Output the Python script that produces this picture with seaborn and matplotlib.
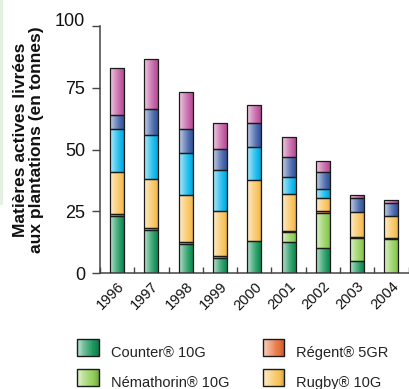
import numpy as np
import matplotlib
matplotlib.use("Agg")
import matplotlib.pyplot as plt
import matplotlib.colors as mcolors
from matplotlib.patches import Rectangle
from matplotlib.legend_handler import HandlerBase
from matplotlib.transforms import ScaledTranslation
import seaborn as sns

# Tonnes of active ingredient delivered, per product and year
years = ["1996", "1997", "1998", "1999", "2000", "2001", "2002", "2003", "2004"]
counter = [23.3, 17.7, 11.9, 6.3, 13.0, 12.8, 10.1, 4.9, 0.0]
nemathorin = [0.0, 0.0, 0.0, 0.0, 0.0, 3.9, 14.4, 9.4, 13.9]
regent = [0.6, 0.5, 0.9, 0.8, 0.0, 0.3, 0.5, 0.4, 0.3]
rugby = [17.2, 19.9, 19.0, 18.2, 24.8, 15.2, 5.4, 10.2, 9.1]
cyan_series = [17.3, 18.0, 17.0, 16.5, 13.2, 6.9, 3.7, 0.0, 0.0]
blue_series = [5.7, 10.2, 9.5, 8.4, 9.7, 7.9, 7.0, 5.7, 5.0]
pink_series = [19.1, 20.4, 15.2, 10.5, 7.4, 8.1, 4.5, 1.2, 1.3]

series = [
    ("Counter® 10G", counter, "#17955a"),
    ("Némathorin® 10G", nemathorin, "#8fcd55"),
    ("Régent® 5GR", regent, "#e6703a"),
    ("Rugby® 10G", rugby, "#f8c157"),
    (None, cyan_series, "#08b4ea"),
    (None, blue_series, "#3d5ea6"),
    (None, pink_series, "#c0589f"),
]
legend_names = ["Counter® 10G", "Némathorin® 10G", "Régent® 5GR", "Rugby® 10G"]

sns.set_theme(style="white")
plt.rcParams["font.family"] = ["Liberation Sans", "DejaVu Sans"]


def ramp(color, n=64):
    """Horizontal shading: pale on the left, full colour, slightly darker at the right edge."""
    c = np.array(mcolors.to_rgb(color))
    t = np.linspace(0, 1, n)
    out = []
    for v in t:
        if v < 0.8:
            w = 0.72 * (1 - v / 0.8) ** 1.2
            out.append(c * (1 - w) + w)
        else:
            d = (v - 0.8) / 0.2 * 0.18
            out.append(c * (1 - d))
    return np.array(out)


fig = plt.figure(figsize=(4.09, 3.89), dpi=100)
ax = fig.add_axes([100 / 409, 1 - 273.3 / 389, 308.5 / 409, (273.3 - 26) / 389])

bottom = np.zeros(len(years))
for name, vals, col in series:
    vals = np.array(vals, dtype=float)
    sns.barplot(x=years, y=vals, bottom=bottom, color=col, saturation=1,
                width=0.41, edgecolor="#1a1a1a", linewidth=0.9, ax=ax, zorder=3)
    cont = ax.containers[-1]
    grad = ramp(col)[np.newaxis, :, :]
    for patch, v in zip(cont.patches, vals):
        if v <= 0:
            patch.set_visible(False)
            continue
        x0, y0 = patch.get_x(), patch.get_y()
        w, h = patch.get_width(), patch.get_height()
        im = ax.imshow(grad, extent=[x0, x0 + w, y0, y0 + h], aspect="auto",
                       interpolation="bilinear", zorder=2.5)
        im.set_clip_path(patch)
        patch.set_facecolor("none")
    bottom = bottom + vals

ax.set_xlim(-0.5, 8.5)
ax.set_ylim(0, 100)
ax.set_xlabel("")
ax.set_ylabel("")

for s in ["top", "right"]:
    ax.spines[s].set_visible(False)
for s in ["left", "bottom"]:
    ax.spines[s].set_color("#444444")
    ax.spines[s].set_linewidth(1.1)

ax.set_yticks([0, 25, 50, 75, 100])
ax.set_yticklabels(["0", "25", "50", "75", "100"])
ax.tick_params(axis="y", direction="out", length=5.8, width=1.0, color="#444444",
               labelsize=13, pad=5, left=True, labelcolor="#111111")
top_lbl = ax.get_yticklabels()[-1]
top_lbl.set_transform(top_lbl.get_transform() + ScaledTranslation(0, 5 / 72, fig.dpi_scale_trans))

ax.set_xticks(range(len(years)))
ax.set_xticklabels(years, rotation=45, ha="right", rotation_mode="anchor")
ax.set_xticks(np.arange(-0.5, len(years), 1.0), minor=True)
ax.tick_params(axis="x", which="major", length=0, labelsize=10.5, pad=4.5, labelcolor="#111111")
ax.tick_params(axis="x", which="minor", direction="in", length=4.3, width=1.0,
               color="#444444", bottom=True)

fig.text(28.5 / 409, 1 - 140 / 389,
         "Matières actives livrées\naux plantations (en tonnes)",
         rotation=90, ha="center", va="center", fontsize=12.5, fontweight="bold",
         linespacing=1.05, color="#111111")

# faint page tint at the left edge
fig.patches.append(Rectangle((0, 1 - 205 / 389), 3 / 409, 205 / 389, transform=fig.transFigure,
                             facecolor="#e3f1e0", edgecolor="none", zorder=0))


class GradientBox(HandlerBase):
    def create_artists(self, legend, orig_handle, xdescent, ydescent, width, height,
                       fontsize, trans):
        col = orig_handle.get_facecolor()
        cols = ramp(col, 24)
        x0, y0 = -xdescent, -ydescent + 3.5
        n = len(cols)
        arts = []
        for i, c in enumerate(cols):
            r = Rectangle((x0 + width * i / n, y0), width / n + 0.3, height,
                          facecolor=c, edgecolor="none", transform=trans)
            arts.append(r)
        arts.append(Rectangle((x0, y0), width, height, facecolor="none",
                              edgecolor="#1a1a1a", linewidth=1.0, transform=trans))
        return arts


handles = [Rectangle((0, 0), 1, 1, facecolor=series[i][2]) for i in range(4)]
fig.legend(handles, legend_names,
           handler_map={Rectangle: GradientBox()}, ncol=2, frameon=False,
           loc="upper left", bbox_to_anchor=(77 / 409, 1 - 344 / 389),
           bbox_transform=fig.transFigure, borderpad=0, borderaxespad=0,
           fontsize=10.5, handlelength=1.5, handleheight=1.4, handletextpad=0.8,
           labelspacing=0.9, columnspacing=2.3, labelcolor="#222222")

fig.savefig("out.png", dpi=100, facecolor="white")
